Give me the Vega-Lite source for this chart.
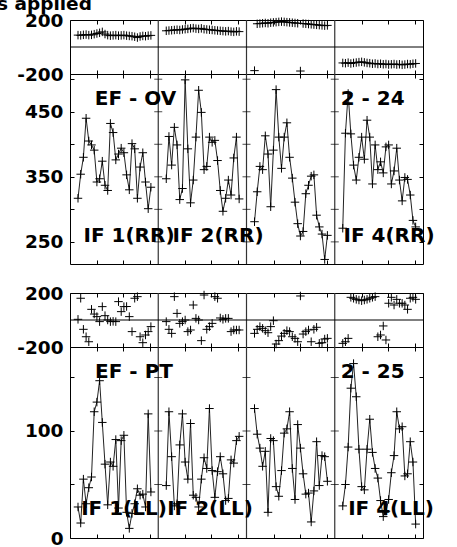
{
"$schema": "https://vega.github.io/schema/vega-lite/v6.json",
"padding": {"left": -3, "top": -5, "right": 0, "bottom": 0},
"title": {"text": "s applied", "anchor": "start", "frame": "group", "dx": -73, "font": "DejaVu Sans", "fontWeight": "bold", "fontSize": 18.5, "color": "black", "offset": -3},
"config": {
  "view": {"stroke": "black", "strokeWidth": 1},
  "axis": {"labelFont": "DejaVu Sans", "labelFontWeight": "bold", "labelFontSize": 18.5, "labelColor": "black", "tickColor": "black", "tickWidth": 1, "domain": false, "grid": false},
  "text": {"font": "DejaVu Sans", "fontWeight": "bold", "fontSize": 20, "color": "black"}
},
"datasets": {
  "bnd": [{"b": 88.25}, {"b": 176.5}, {"b": 264.75}],
  "zero": [{"v": 0}],
  "btA1": [
    {"b": 88.25, "v": 250}, {"b": 88.25, "v": 300}, {"b": 88.25, "v": 350}, {"b": 88.25, "v": 400}, {"b": 88.25, "v": 450}, {"b": 88.25, "v": 500},
    {"b": 176.5, "v": 250}, {"b": 176.5, "v": 300}, {"b": 176.5, "v": 350}, {"b": 176.5, "v": 400}, {"b": 176.5, "v": 450}, {"b": 176.5, "v": 500},
    {"b": 264.75, "v": 250}, {"b": 264.75, "v": 300}, {"b": 264.75, "v": 350}, {"b": 264.75, "v": 400}, {"b": 264.75, "v": 450}, {"b": 264.75, "v": 500}
  ],
  "btA2": [
    {"b": 88.25, "v": 50}, {"b": 88.25, "v": 100}, {"b": 88.25, "v": 150},
    {"b": 176.5, "v": 50}, {"b": 176.5, "v": 100}, {"b": 176.5, "v": 150},
    {"b": 264.75, "v": 50}, {"b": 264.75, "v": 100}, {"b": 264.75, "v": 150}
  ],
  "notesA1": [
    {"x": 65.5, "y": 469, "t": "EF - OV"}, {"x": 302.7, "y": 470, "t": "2 - 24"},
    {"x": 59, "y": 259, "t": "IF 1(RR)"}, {"x": 148, "y": 259, "t": "IF 2(RR)"}, {"x": 319, "y": 259, "t": "IF 4(RR)"}
  ],
  "notesA2": [
    {"x": 64, "y": 155, "t": "EF - PT"}, {"x": 302.7, "y": 155, "t": "2 - 25"},
    {"x": 54, "y": 27, "t": "IF 1(LL)"}, {"x": 140, "y": 27, "t": "IF 2(LL)"}, {"x": 321, "y": 27, "t": "IF 4(LL)"}
  ],
  "empty": [],
  "series": [
    {"col": 1, "x": 8, "ovA": 317, "ovP": 88, "ptA": 29, "ptP": 5},
    {"col": 1, "x": 10.7, "ovA": 354, "ovP": 86, "ptA": 14, "ptP": 161},
    {"col": 1, "x": 13.4, "ovA": 380, "ovP": 90, "ptA": 55, "ptP": -69},
    {"col": 1, "x": 16.1, "ovA": 440, "ovP": 92, "ptA": 32, "ptP": -124},
    {"col": 1, "x": 18.8, "ovA": 405, "ovP": 88, "ptA": 47, "ptP": -161},
    {"col": 1, "x": 21.5, "ovA": 399, "ovP": 90, "ptA": 57, "ptP": 79},
    {"col": 1, "x": 24.2, "ovA": 391, "ovP": 95, "ptA": 118, "ptP": 44},
    {"col": 1, "x": 26.9, "ovA": 342, "ovP": 100, "ptA": 127, "ptP": 25},
    {"col": 1, "x": 29.6, "ovA": 347, "ovP": 105, "ptA": 147, "ptP": -12},
    {"col": 1, "x": 32.3, "ovA": 374, "ovP": 112, "ptA": 108, "ptP": 99},
    {"col": 1, "x": 35, "ovA": 337, "ovP": 96, "ptA": 69, "ptP": 32},
    {"col": 1, "x": 37.7, "ovA": 329, "ovP": 88, "ptA": 31, "ptP": 0},
    {"col": 1, "x": 40.4, "ovA": 432, "ovP": 84, "ptA": 71, "ptP": -12},
    {"col": 1, "x": 43.1, "ovA": 418, "ovP": 86, "ptA": 67, "ptP": -10},
    {"col": 1, "x": 45.8, "ovA": 376, "ovP": 88, "ptA": 92, "ptP": -12},
    {"col": 1, "x": 48.5, "ovA": 385, "ovP": 84, "ptA": 28, "ptP": 136},
    {"col": 1, "x": 51.2, "ovA": 394, "ovP": 86, "ptA": 91, "ptP": 62},
    {"col": 1, "x": 53.9, "ovA": 387, "ovP": 88, "ptA": 96, "ptP": 99},
    {"col": 1, "x": 56.6, "ovA": 353, "ovP": 84, "ptA": 24, "ptP": 100},
    {"col": 1, "x": 59.3, "ovA": 330, "ovP": 82, "ptA": 9, "ptP": 25},
    {"col": 1, "x": 62, "ovA": 401, "ovP": 80, "ptA": 23, "ptP": -86},
    {"col": 1, "x": 64.7, "ovA": 393, "ovP": 76, "ptA": 32, "ptP": 161},
    {"col": 1, "x": 67.4, "ovA": 317, "ovP": 70, "ptA": 46, "ptP": 173},
    {"col": 1, "x": 70.1, "ovA": 365, "ovP": 78, "ptA": 40, "ptP": -124},
    {"col": 1, "x": 72.8, "ovA": 387, "ovP": 82, "ptA": 41, "ptP": -168},
    {"col": 1, "x": 75.5, "ovA": 342, "ovP": 80, "ptA": 29, "ptP": -111},
    {"col": 1, "x": 78.2, "ovA": 301, "ovP": 84, "ptA": 116, "ptP": -86},
    {"col": 1, "x": 80.9, "ovA": 334, "ovP": 86, "ptA": 43, "ptP": -49},
    {"col": 2, "x": 96.25, "ovA": 347, "ovP": 120, "ptA": 49, "ptP": -12},
    {"col": 2, "x": 98.95, "ovA": 412, "ovP": 122, "ptA": 118, "ptP": -69},
    {"col": 2, "x": 101.65, "ovA": 368, "ovP": 124, "ptA": 76, "ptP": -99},
    {"col": 2, "x": 104.35, "ovA": 426, "ovP": 126, "ptA": 30, "ptP": 173},
    {"col": 2, "x": 107.05, "ovA": 399, "ovP": 128, "ptA": 32, "ptP": 49},
    {"col": 2, "x": 109.75, "ovA": 315, "ovP": 126, "ptA": 87, "ptP": -25},
    {"col": 2, "x": 112.45, "ovA": 332, "ovP": 130, "ptA": 116, "ptP": -12},
    {"col": 2, "x": 115.15, "ovA": 499, "ovP": 132, "ptA": 71, "ptP": 0},
    {"col": 2, "x": 117.85, "ovA": 393, "ovP": 134, "ptA": 55, "ptP": -86},
    {"col": 2, "x": 120.55, "ovA": 310, "ovP": 138, "ptA": 107, "ptP": -74},
    {"col": 2, "x": 123.25, "ovA": 345, "ovP": 140, "ptA": 40, "ptP": 111},
    {"col": 2, "x": 125.95, "ovA": 411, "ovP": 136, "ptA": 38, "ptP": 12},
    {"col": 2, "x": 128.65, "ovA": 483, "ovP": 134, "ptA": 29, "ptP": 0},
    {"col": 2, "x": 131.35, "ovA": 449, "ovP": 138, "ptA": 55, "ptP": -153},
    {"col": 2, "x": 134.05, "ovA": 361, "ovP": 132, "ptA": 75, "ptP": 185},
    {"col": 2, "x": 136.75, "ovA": 366, "ovP": 130, "ptA": 65, "ptP": -69},
    {"col": 2, "x": 139.45, "ovA": 411, "ovP": 128, "ptA": 121, "ptP": -49},
    {"col": 2, "x": 142.15, "ovA": 403, "ovP": 126, "ptA": 63, "ptP": -25},
    {"col": 2, "x": 144.85, "ovA": 406, "ovP": 124, "ptA": 38, "ptP": 173},
    {"col": 2, "x": 147.55, "ovA": 375, "ovP": 122, "ptA": 62, "ptP": 161},
    {"col": 2, "x": 150.25, "ovA": 329, "ovP": 120, "ptA": 76, "ptP": 15},
    {"col": 2, "x": 152.95, "ovA": 297, "ovP": 118, "ptA": 60, "ptP": 5},
    {"col": 2, "x": 155.65, "ovA": 317, "ovP": 116, "ptA": 35, "ptP": 12},
    {"col": 2, "x": 158.35, "ovA": 345, "ovP": 118, "ptA": 37, "ptP": 12},
    {"col": 2, "x": 161.05, "ovA": 322, "ovP": 114, "ptA": 73, "ptP": -86},
    {"col": 2, "x": 163.75, "ovA": 379, "ovP": 112, "ptA": 70, "ptP": -74},
    {"col": 2, "x": 166.45, "ovA": 411, "ovP": 116, "ptA": 91, "ptP": -74},
    {"col": 2, "x": 169.15, "ovA": 316, "ovP": 114, "ptA": 95, "ptP": -74},
    {"col": 3, "x": 184.5, "ovA": 281, "ovP": -175, "ptA": 121, "ptP": -99},
    {"col": 3, "x": 187.2, "ovA": 327, "ovP": 172, "ptA": 97, "ptP": -69},
    {"col": 3, "x": 189.9, "ovA": 366, "ovP": 174, "ptA": 84, "ptP": -49},
    {"col": 3, "x": 192.6, "ovA": 361, "ovP": 176, "ptA": 67, "ptP": -62},
    {"col": 3, "x": 195.3, "ovA": 413, "ovP": 178, "ptA": 81, "ptP": -79},
    {"col": 3, "x": 198, "ovA": 385, "ovP": 176, "ptA": 24, "ptP": -94},
    {"col": 3, "x": 200.7, "ovA": 304, "ovP": 180, "ptA": 93, "ptP": -49},
    {"col": 3, "x": 203.4, "ovA": 391, "ovP": 182, "ptA": 91, "ptP": -5},
    {"col": 3, "x": 206.1, "ovA": 484, "ovP": 184, "ptA": 48, "ptP": -178},
    {"col": 3, "x": 208.8, "ovA": 411, "ovP": 186, "ptA": 39, "ptP": -153},
    {"col": 3, "x": 211.5, "ovA": 363, "ovP": 188, "ptA": 63, "ptP": -119},
    {"col": 3, "x": 214.2, "ovA": 411, "ovP": 186, "ptA": 98, "ptP": -99},
    {"col": 3, "x": 216.9, "ovA": 433, "ovP": 184, "ptA": 102, "ptP": -79},
    {"col": 3, "x": 219.6, "ovA": 380, "ovP": 182, "ptA": 118, "ptP": -86},
    {"col": 3, "x": 222.3, "ovA": 348, "ovP": 180, "ptA": 65, "ptP": -124},
    {"col": 3, "x": 225, "ovA": 311, "ovP": 178, "ptA": 36, "ptP": -136},
    {"col": 3, "x": 227.7, "ovA": 278, "ovP": 176, "ptA": 106, "ptP": -161},
    {"col": 3, "x": 230.4, "ovA": 259, "ovP": -178, "ptA": 84, "ptP": 178},
    {"col": 3, "x": 233.1, "ovA": 266, "ovP": 174, "ptA": 60, "ptP": -104},
    {"col": 3, "x": 235.8, "ovA": 324, "ovP": 172, "ptA": 41, "ptP": -86},
    {"col": 3, "x": 238.5, "ovA": 337, "ovP": 170, "ptA": 42, "ptP": -74},
    {"col": 3, "x": 241.2, "ovA": 351, "ovP": 168, "ptA": 15, "ptP": -161},
    {"col": 3, "x": 243.9, "ovA": 353, "ovP": 166, "ptA": 44, "ptP": -69},
    {"col": 3, "x": 246.6, "ovA": 291, "ovP": 164, "ptA": 90, "ptP": -54},
    {"col": 3, "x": 249.3, "ovA": 273, "ovP": 162, "ptA": 49, "ptP": -173},
    {"col": 3, "x": 252, "ovA": 262, "ovP": 160, "ptA": 77, "ptP": -168},
    {"col": 3, "x": 254.7, "ovA": 223, "ovP": 158, "ptA": 76, "ptP": -141},
    {"col": 3, "x": 257.4, "ovA": 260, "ovP": 160, "ptA": 53, "ptP": -136},
    {"col": 4, "x": 272.75, "ovA": 271, "ovP": -118, "ptA": 30, "ptP": -173},
    {"col": 4, "x": 275.45, "ovA": 417, "ovP": -120, "ptA": 50, "ptP": -161},
    {"col": 4, "x": 278.15, "ovA": 478, "ovP": -116, "ptA": 85, "ptP": -136},
    {"col": 4, "x": 280.85, "ovA": 416, "ovP": -122, "ptA": 140, "ptP": 168},
    {"col": 4, "x": 283.55, "ovA": 368, "ovP": -118, "ptA": 163, "ptP": 161},
    {"col": 4, "x": 286.25, "ovA": 345, "ovP": -115, "ptA": 132, "ptP": 153},
    {"col": 4, "x": 288.95, "ovA": 380, "ovP": -112, "ptA": 83, "ptP": 148},
    {"col": 4, "x": 291.65, "ovA": 411, "ovP": -110, "ptA": 48, "ptP": 143},
    {"col": 4, "x": 294.35, "ovA": 377, "ovP": -114, "ptA": 45, "ptP": 148},
    {"col": 4, "x": 297.05, "ovA": 437, "ovP": -118, "ptA": 83, "ptP": 153},
    {"col": 4, "x": 299.75, "ovA": 411, "ovP": -120, "ptA": 111, "ptP": 161},
    {"col": 4, "x": 302.45, "ovA": 339, "ovP": -124, "ptA": 80, "ptP": 168},
    {"col": 4, "x": 305.15, "ovA": 399, "ovP": -122, "ptA": 65, "ptP": 173},
    {"col": 4, "x": 307.85, "ovA": 361, "ovP": -126, "ptA": 56, "ptP": -124},
    {"col": 4, "x": 310.55, "ovA": 373, "ovP": -124, "ptA": 35, "ptP": -111},
    {"col": 4, "x": 313.25, "ovA": 356, "ovP": -128, "ptA": 20, "ptP": -44},
    {"col": 4, "x": 315.95, "ovA": 396, "ovP": -126, "ptA": 25, "ptP": -148},
    {"col": 4, "x": 318.65, "ovA": 399, "ovP": -130, "ptA": 36, "ptP": 124},
    {"col": 4, "x": 321.35, "ovA": 339, "ovP": -128, "ptA": 61, "ptP": 168},
    {"col": 4, "x": 324.05, "ovA": 359, "ovP": -126, "ptA": 77, "ptP": 111},
    {"col": 4, "x": 326.75, "ovA": 394, "ovP": -130, "ptA": 118, "ptP": 153},
    {"col": 4, "x": 329.45, "ovA": 345, "ovP": -128, "ptA": 102, "ptP": 124},
    {"col": 4, "x": 332.15, "ovA": 313, "ovP": -132, "ptA": 104, "ptP": 124},
    {"col": 4, "x": 334.85, "ovA": 349, "ovP": -130, "ptA": 58, "ptP": 111},
    {"col": 4, "x": 337.55, "ovA": 346, "ovP": -126, "ptA": 60, "ptP": 79},
    {"col": 4, "x": 340.25, "ovA": 322, "ovP": -128, "ptA": 90, "ptP": 161},
    {"col": 4, "x": 342.95, "ovA": 283, "ovP": -124, "ptA": 71, "ptP": 168},
    {"col": 4, "x": 345.65, "ovA": 273, "ovP": -122, "ptA": 13, "ptP": 153}
  ]
},
"spacing": 0,
"bounds": "flush",
"vconcat": [
  {
    "width": 353, "height": 54,
    "layer": [
      {"data": {"name": "bnd"}, "mark": {"type": "rule", "color": "#333", "strokeWidth": 1.2},
       "encoding": {"x": {"field": "b", "type": "quantitative", "scale": {"domain": [0, 353], "nice": false, "zero": false},
         "axis": {"orient": "bottom", "values": [27, 53, 80, 115.25, 141.25, 168.25, 203.5, 229.5, 256.5, 291.75, 317.75, 344.75], "labels": false, "tickSize": -4, "title": null}}}},
      {"data": {"name": "zero"}, "mark": {"type": "rule", "color": "black", "strokeWidth": 1},
       "encoding": {"y": {"field": "v", "type": "quantitative", "scale": {"domain": [-200, 200], "nice": false, "zero": false},
         "axis": {"orient": "left", "values": [-200, 200], "labelExpr": "toString(datum.value)", "tickSize": -4, "labelPadding": 11, "title": null}}}},
      {"data": {"name": "series"},
       "mark": {"type": "point", "shape": "M-1,0L1,0M0,-1L0,1", "filled": false, "stroke": "black", "strokeWidth": 1, "size": 72, "opacity": 1},
       "encoding": {
         "x": {"field": "x", "type": "quantitative", "scale": {"domain": [0, 353], "nice": false, "zero": false},
           "axis": {"orient": "top", "values": [27, 53, 80, 115.25, 141.25, 168.25, 203.5, 229.5, 256.5, 291.75, 317.75, 344.75], "labels": false, "tickSize": -4, "title": null}},
         "y": {"field": "ovP", "type": "quantitative", "scale": {"domain": [-200, 200], "nice": false, "zero": false},
           "axis": {"orient": "right", "values": [-200, 200], "labels": false, "tickSize": -4, "title": null}}}}
    ],
    "resolve": {"axis": {"x": "independent", "y": "independent"}}
  },
  {
    "width": 353, "height": 190,
    "layer": [
      {"data": {"name": "bnd"}, "mark": {"type": "rule", "color": "#333", "strokeWidth": 1.2},
       "encoding": {"x": {"field": "b", "type": "quantitative", "scale": {"domain": [0, 353], "nice": false, "zero": false},
         "axis": {"orient": "bottom", "values": [27, 53, 80, 115.25, 141.25, 168.25, 203.5, 229.5, 256.5, 291.75, 317.75, 344.75], "labels": false, "tickSize": -4, "title": null}}}},
      {"data": {"name": "btA1"}, "mark": {"type": "tick", "orient": "horizontal", "size": 8, "thickness": 1, "color": "black"},
       "encoding": {
         "x": {"field": "b", "type": "quantitative", "scale": {"domain": [0, 353], "nice": false, "zero": false},
           "axis": {"orient": "top", "values": [27, 53, 80, 115.25, 141.25, 168.25, 203.5, 229.5, 256.5, 291.75, 317.75, 344.75], "labels": false, "tickSize": -4, "title": null}},
         "y": {"field": "v", "type": "quantitative", "scale": {"domain": [216, 508], "nice": false, "zero": false},
           "axis": {"orient": "left", "values": [250, 300, 350, 400, 450, 500], "labelExpr": "datum.value % 100 == 50 ? toString(datum.value) : ''", "tickSize": -4, "labelPadding": 11, "title": null}}}},
      {"data": {"name": "series"}, "mark": {"type": "line", "color": "#222", "strokeWidth": 1},
       "encoding": {
         "x": {"field": "x", "type": "quantitative", "scale": {"domain": [0, 353], "nice": false, "zero": false}, "axis": null},
         "y": {"field": "ovA", "type": "quantitative", "scale": {"domain": [216, 508], "nice": false, "zero": false},
           "axis": {"orient": "right", "values": [250, 300, 350, 400, 450, 500], "labels": false, "tickSize": -4, "title": null}},
         "detail": {"field": "col", "type": "nominal"}}},
      {"data": {"name": "series"},
       "mark": {"type": "point", "shape": "M-1,0L1,0M0,-1L0,1", "filled": false, "stroke": "black", "strokeWidth": 1, "size": 72, "opacity": 1},
       "encoding": {
         "x": {"field": "x", "type": "quantitative", "scale": {"domain": [0, 353], "nice": false, "zero": false}, "axis": null},
         "y": {"field": "ovA", "type": "quantitative", "scale": {"domain": [216, 508], "nice": false, "zero": false}, "axis": null}}},
      {"data": {"name": "notesA1"}, "mark": {"type": "text", "align": "center", "baseline": "middle"},
       "encoding": {
         "x": {"field": "x", "type": "quantitative", "scale": {"domain": [0, 353], "nice": false, "zero": false}, "axis": null},
         "y": {"field": "y", "type": "quantitative", "scale": {"domain": [216, 508], "nice": false, "zero": false}, "axis": null},
         "text": {"field": "t", "type": "nominal"}}}
    ],
    "resolve": {"axis": {"x": "independent", "y": "independent"}}
  },
  {
    "width": 353, "height": 29,
    "view": {"stroke": null},
    "data": {"name": "empty"},
    "mark": {"type": "rule", "opacity": 0},
    "encoding": {}
  },
  {
    "width": 353, "height": 54,
    "layer": [
      {"data": {"name": "bnd"}, "mark": {"type": "rule", "color": "#333", "strokeWidth": 1.2},
       "encoding": {"x": {"field": "b", "type": "quantitative", "scale": {"domain": [0, 353], "nice": false, "zero": false},
         "axis": {"orient": "bottom", "values": [27, 53, 80, 115.25, 141.25, 168.25, 203.5, 229.5, 256.5, 291.75, 317.75, 344.75], "labels": false, "tickSize": -4, "title": null}}}},
      {"data": {"name": "zero"}, "mark": {"type": "rule", "color": "black", "strokeWidth": 1},
       "encoding": {"y": {"field": "v", "type": "quantitative", "scale": {"domain": [-200, 200], "nice": false, "zero": false},
         "axis": {"orient": "left", "values": [-200, 200], "labelExpr": "toString(datum.value)", "tickSize": -4, "labelPadding": 11, "title": null}}}},
      {"data": {"name": "series"},
       "mark": {"type": "point", "shape": "M-1,0L1,0M0,-1L0,1", "filled": false, "stroke": "black", "strokeWidth": 1, "size": 72, "opacity": 1},
       "encoding": {
         "x": {"field": "x", "type": "quantitative", "scale": {"domain": [0, 353], "nice": false, "zero": false},
           "axis": {"orient": "top", "values": [27, 53, 80, 115.25, 141.25, 168.25, 203.5, 229.5, 256.5, 291.75, 317.75, 344.75], "labels": false, "tickSize": -4, "title": null}},
         "y": {"field": "ptP", "type": "quantitative", "scale": {"domain": [-200, 200], "nice": false, "zero": false},
           "axis": {"orient": "right", "values": [-200, 200], "labels": false, "tickSize": -4, "title": null}}}}
    ],
    "resolve": {"axis": {"x": "independent", "y": "independent"}}
  },
  {
    "width": 353, "height": 191,
    "layer": [
      {"data": {"name": "bnd"}, "mark": {"type": "rule", "color": "#333", "strokeWidth": 1.2},
       "encoding": {"x": {"field": "b", "type": "quantitative", "scale": {"domain": [0, 353], "nice": false, "zero": false},
         "axis": {"orient": "bottom", "values": [27, 53, 80, 115.25, 141.25, 168.25, 203.5, 229.5, 256.5, 291.75, 317.75, 344.75], "labels": false, "tickSize": -4, "title": null}}}},
      {"data": {"name": "btA2"}, "mark": {"type": "tick", "orient": "horizontal", "size": 8, "thickness": 1, "color": "black"},
       "encoding": {
         "x": {"field": "b", "type": "quantitative", "scale": {"domain": [0, 353], "nice": false, "zero": false},
           "axis": {"orient": "top", "values": [27, 53, 80, 115.25, 141.25, 168.25, 203.5, 229.5, 256.5, 291.75, 317.75, 344.75], "labels": false, "tickSize": -4, "title": null}},
         "y": {"field": "v", "type": "quantitative", "scale": {"domain": [0, 178.5], "nice": false, "zero": false},
           "axis": {"orient": "left", "values": [0, 50, 100, 150], "labelExpr": "datum.value % 100 == 0 ? toString(datum.value) : ''", "tickSize": -4, "labelPadding": 11, "title": null}}}},
      {"data": {"name": "series"}, "mark": {"type": "line", "color": "#222", "strokeWidth": 1},
       "encoding": {
         "x": {"field": "x", "type": "quantitative", "scale": {"domain": [0, 353], "nice": false, "zero": false}, "axis": null},
         "y": {"field": "ptA", "type": "quantitative", "scale": {"domain": [0, 178.5], "nice": false, "zero": false},
           "axis": {"orient": "right", "values": [0, 50, 100, 150], "labels": false, "tickSize": -4, "title": null}},
         "detail": {"field": "col", "type": "nominal"}}},
      {"data": {"name": "series"},
       "mark": {"type": "point", "shape": "M-1,0L1,0M0,-1L0,1", "filled": false, "stroke": "black", "strokeWidth": 1, "size": 72, "opacity": 1},
       "encoding": {
         "x": {"field": "x", "type": "quantitative", "scale": {"domain": [0, 353], "nice": false, "zero": false}, "axis": null},
         "y": {"field": "ptA", "type": "quantitative", "scale": {"domain": [0, 178.5], "nice": false, "zero": false}, "axis": null}}},
      {"data": {"name": "notesA2"}, "mark": {"type": "text", "align": "center", "baseline": "middle"},
       "encoding": {
         "x": {"field": "x", "type": "quantitative", "scale": {"domain": [0, 353], "nice": false, "zero": false}, "axis": null},
         "y": {"field": "y", "type": "quantitative", "scale": {"domain": [0, 178.5], "nice": false, "zero": false}, "axis": null},
         "text": {"field": "t", "type": "nominal"}}}
    ],
    "resolve": {"axis": {"x": "independent", "y": "independent"}}
  }
]
}
